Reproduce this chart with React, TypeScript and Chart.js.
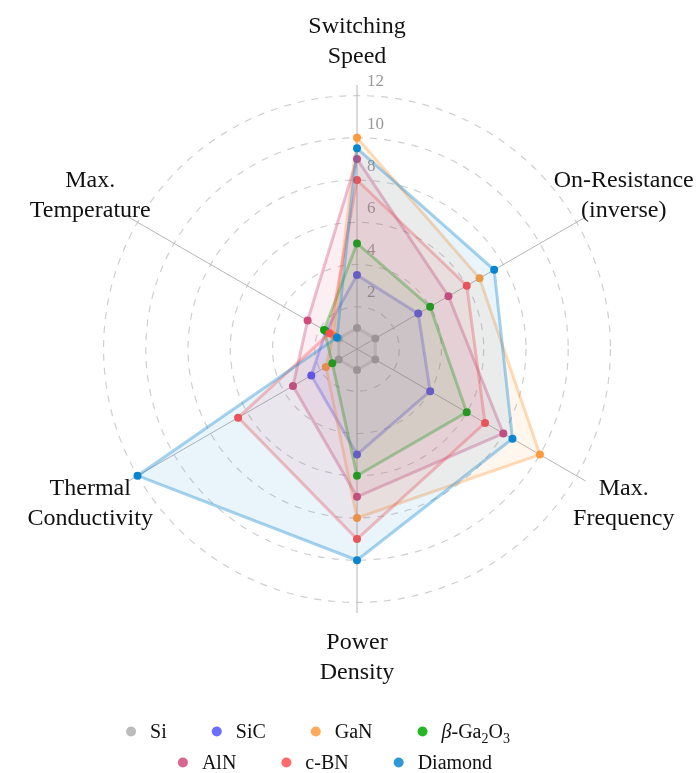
import { useEffect, useRef } from 'react';
import { Chart, registerables } from 'chart.js';

Chart.register(...registerables);

// ---------- data ----------
const axisLabels: string[][] = [
  ['Switching', 'Speed'],
  ['On-Resistance', '(inverse)'],
  ['Max.', 'Frequency'],
  ['Power', 'Density'],
  ['Thermal', 'Conductivity'],
  ['Max.', 'Temperature'],
];

const materials = ['Si', 'SiC', 'GaN', 'β-Ga₂O₃', 'AlN', 'c-BN', 'Diamond'];

const siValues = [1, 1, 1, 1, 1, 1];
const sicValues = [3.5, 3.35, 4, 5, 2.5, 1.7];
const ganValues = [10, 6.7, 10, 8, 1.7, 1.3];
const ga2o3Values = [5, 4, 6, 6, 1.35, 1.8];
const alnValues = [9, 5, 8, 7, 3.5, 2.7];
const cbnValues = [8, 6, 7, 9, 6.5, 1.5];
const diamondValues = [9.5, 7.5, 8.5, 10, 12, 1.1];

const seriesValues = [siValues, sicValues, ganValues, ga2o3Values, alnValues, cbnValues, diamondValues];

const materialColors = ['#b0b0b0', '#5252ff', '#ff9a3c', '#00aa00', '#d04a7c', '#ff5050', '#0a86d0'];

const tickValues = [2, 4, 6, 8, 10, 12];
const scaleMax = 12.5;

const legendRows = [[0, 1, 2, 3], [4, 5, 6]];

// ---------- style ----------
const SERIF = "'Liberation Serif', 'Times New Roman', serif";

function rgba(hex: string, a: number) {
  const n = parseInt(hex.slice(1), 16);
  return `rgba(${(n >> 16) & 255},${(n >> 8) & 255},${n & 255},${a})`;
}

type Run = { text: string; kind: 'normal' | 'italic' | 'sub' };

function toRuns(label: string): Run[] {
  const runs: Run[] = [];
  for (const ch of label) {
    let kind: Run['kind'] = 'normal';
    let t = ch;
    if (ch === '₂') { kind = 'sub'; t = '2'; }
    else if (ch === '₃') { kind = 'sub'; t = '3'; }
    else if (ch === 'β') { kind = 'italic'; }
    const last = runs[runs.length - 1];
    if (last && last.kind === kind) last.text += t;
    else runs.push({ text: t, kind });
  }
  return runs;
}

function runFont(kind: Run['kind'], size: number) {
  if (kind === 'sub') return `${Math.round(size * 0.7)}px ${SERIF}`;
  if (kind === 'italic') return `italic ${size}px ${SERIF}`;
  return `${size}px ${SERIF}`;
}

function measureRich(ctx: CanvasRenderingContext2D, label: string, size: number) {
  let w = 0;
  for (const r of toRuns(label)) {
    ctx.font = runFont(r.kind, size);
    w += ctx.measureText(r.text).width;
  }
  return w;
}

function drawRich(ctx: CanvasRenderingContext2D, label: string, x: number, baseline: number, size: number) {
  let cx = x;
  for (const r of toRuns(label)) {
    ctx.font = runFont(r.kind, size);
    const y = r.kind === 'sub' ? baseline + size * 0.22 : baseline;
    ctx.fillText(r.text, cx, y);
    cx += ctx.measureText(r.text).width;
  }
}

const tickLabelPlugin = {
  id: 'tickLabelsRight',
  beforeDatasetsDraw(chart: any) {
    const scale = chart.scales.r;
    const ctx: CanvasRenderingContext2D = chart.ctx;
    ctx.save();
    ctx.fillStyle = '#9a9a9a';
    ctx.font = `17px ${SERIF}`;
    ctx.textAlign = 'left';
    ctx.textBaseline = 'alphabetic';
    for (const v of tickValues) {
      const r = scale.getDistanceFromCenterForValue(v);
      ctx.fillText(String(v), scale.xCenter + 10, scale.yCenter - r - 15 + 5.7);
    }
    ctx.restore();
  },
};

const pointLabelPlugin = {
  id: 'centeredPointLabels',
  afterDraw(chart: any) {
    const scale = chart.scales.r;
    const ctx: CanvasRenderingContext2D = chart.ctx;
    const size = 24;
    const lineGap = 29.5;
    ctx.save();
    ctx.fillStyle = '#111111';
    ctx.font = `${size}px ${SERIF}`;
    ctx.textAlign = 'center';
    ctx.textBaseline = 'alphabetic';
    axisLabels.forEach((lines, i) => {
      const p = scale.getPointPosition(i, scale.drawingArea + 44);
      lines.forEach((line, k) => {
        const cy = p.y + (k - (lines.length - 1) / 2) * lineGap;
        ctx.fillText(line, p.x, cy + size * 0.3);
      });
    });
    ctx.restore();
  },
};

const legendPlugin = {
  id: 'rowLegend',
  afterDraw(chart: any) {
    const ctx: CanvasRenderingContext2D = chart.ctx;
    const size = 20;
    const rowCenters = [318, 335];
    const rowY = [731.5, 762.5];
    ctx.save();
    ctx.textAlign = 'left';
    ctx.textBaseline = 'alphabetic';
    legendRows.forEach((row, ri) => {
      const widths = row.map((idx) => measureRich(ctx, materials[idx], size));
      const total = widths.reduce((a, w) => a + 24 + w, 0) + (row.length - 1) * 45;
      let x = rowCenters[ri] - total / 2;
      row.forEach((idx, k) => {
        const cx = x + 5;
        ctx.beginPath();
        ctx.fillStyle = rgba(materialColors[idx], 0.85);
        ctx.arc(cx, rowY[ri], 5, 0, Math.PI * 2);
        ctx.fill();
        ctx.fillStyle = '#111111';
        drawRich(ctx, materials[idx], cx + 19, rowY[ri] + size * 0.33, size);
        x += 24 + widths[k] + 45;
      });
    });
    ctx.restore();
  },
};

export default function App() {
  const canvasRef = useRef<HTMLCanvasElement | null>(null);

  useEffect(() => {
    document.body.style.margin = '0';
    const canvas = canvasRef.current;
    if (!canvas) return;
    const chart = new Chart(canvas, {
      type: 'radar',
      data: {
        labels: axisLabels,
        datasets: materials.map((m, i) => ({
          label: m,
          data: seriesValues[i],
          borderColor: rgba(materialColors[i], 0.36),
          backgroundColor: rgba(materialColors[i], 0.09),
          borderWidth: 3,
          fill: true,
          tension: 0,
          pointRadius: 4,
          pointHoverRadius: 4,
          pointBackgroundColor: materialColors[i],
          pointBorderColor: materialColors[i],
          pointBorderWidth: 0,
          order: materials.length - i,
        })),
      },
      options: {
        animation: false,
        responsive: true,
        maintainAspectRatio: false,
        events: [],
        layout: { padding: { left: 93, right: 77, top: 85, bottom: 159 } },
        plugins: {
          legend: { display: false },
          tooltip: { enabled: false },
        },
        scales: {
          r: {
            min: 0,
            max: scaleMax,
            bounds: 'data',
            ticks: { display: false, stepSize: 2, includeBounds: false },
            grid: {
              circular: true,
              lineWidth: 1.2,
              color: (c: any) => (c.tick && c.tick.value > 0 && c.tick.value <= 12 ? '#cfcfcf' : 'rgba(0,0,0,0)'),
            },
            border: { dash: [7, 7] },
            angleLines: { color: '#b5b5b5', lineWidth: 1 },
            pointLabels: { display: false },
          },
        },
      } as any,
      plugins: [tickLabelPlugin, pointLabelPlugin, legendPlugin],
    });
    return () => chart.destroy();
  }, []);

  return (
    <div style={{ width: 699, height: 773, position: 'relative' }}>
      <canvas ref={canvasRef} />
    </div>
  );
}
